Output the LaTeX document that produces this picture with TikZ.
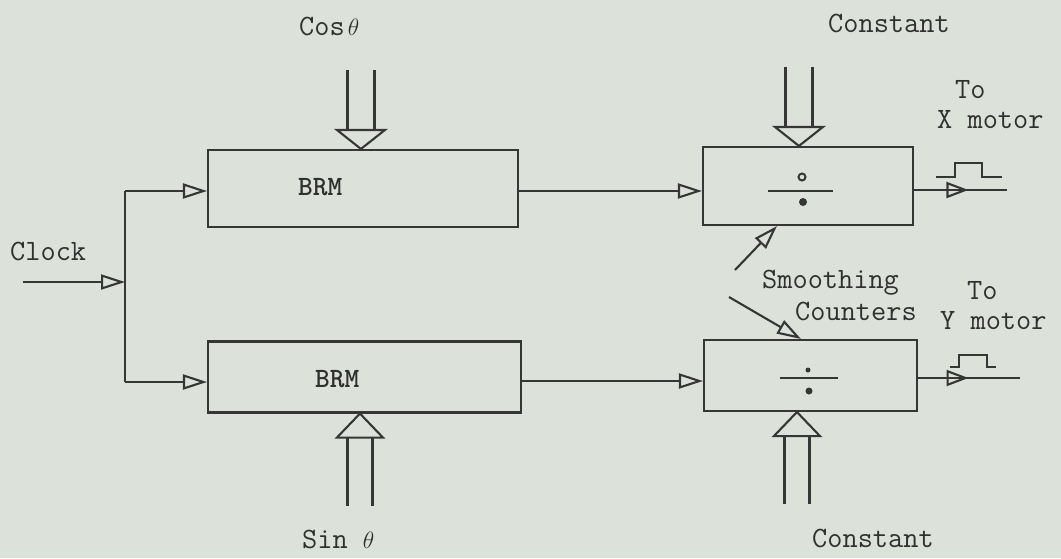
\documentclass[tikz,border=0pt]{standalone}
\usetikzlibrary{arrows.meta,decorations.markings}
\definecolor{bg}{HTML}{DCE2D9}
\definecolor{ink}{HTML}{363636}
\definecolor{txt}{HTML}{303030}
\newcommand{\smalltheta}{\scalebox{0.95}{$\theta$}}
\begin{document}
\begin{tikzpicture}[x=1pt,y=-1pt,
  ln/.style={draw,color=ink,line width=2.1pt},
  box/.style={ln,rectangle,inner sep=0pt},
  arr/.style={ln,-{Triangle[open,length=24pt,width=15pt]}},
  outarr/.style={ln,postaction={decorate},
    decoration={markings,mark=at position #1 with {\arrow{Triangle[open,length=22pt,width=16pt]}}}},
  lbl/.style={font=\ttfamily\fontsize{29.5}{32}\selectfont,text=txt,inner sep=0pt,anchor=base west},
  blbl/.style={lbl,font=\ttfamily\bfseries\fontsize{28}{30}\selectfont},
  downarr/.pic={\draw[ln] (-13.5,-79)--(-13.5,-19) (13.5,-79)--(13.5,-19);
                \draw[ln,line join=miter] (-24,-19)--(24,-19)--(0,0)--cycle;},
  uparr/.pic={\draw[ln] (-12.5,92)--(-12.5,24) (12.5,92)--(12.5,24);
              \draw[ln,line join=miter] (-23,24)--(23,24)--(0,0)--cycle;},
  pulse/.style={draw,color=ink,line width=1.6pt}
]
\fill[bg] (0,0) rectangle (1061,558);
\useasboundingbox (0,0) rectangle (1061,558);

% boxes
\node[box,minimum width=310pt,minimum height=77pt] (brm1) at (363,188.5) {};
\node[box,minimum width=313pt,minimum height=71pt] (brm2) at (364.5,377) {};
\node[box,minimum width=210pt,minimum height=78pt] (div1) at (808,186) {};
\node[box,minimum width=213pt,minimum height=71pt] (div2) at (810.5,375.5) {};

% texts
\node[blbl] (t1) at (298,195) {BRM};
\node[blbl] (t2) at (315,387) {BRM};
\node[lbl] (clock) at (10,260) {Clock};
\node[lbl] (cos) at (299,35) {Cos\hspace{3pt}\smalltheta};
\node[lbl] (sin) at (302,548) {Sin \smalltheta};
\node[lbl] (c1) at (828,32) {Constant};
\node[lbl] (c2) at (812,547) {Constant};
\node[lbl] (sm) at (762,288) {Smoothing};
\node[lbl] (cn) at (795,320) {Counters};
\node[lbl] (to1) at (955,98) {To};
\node[lbl] (xm) at (937,128) {X motor};
\node[lbl] (to2) at (967,299) {To};
\node[lbl] (ym) at (940,329) {Y motor};

% clock and trunk
\coordinate (clk) at (23,282);
\coordinate (tt) at (125,191);
\coordinate (tb) at (125,382);
\draw[ln] (tt) -- (tb);
\draw[arr] (clk) -- (clk -| tt);
\draw[arr] (tt) -- (tt -| brm1.west);
\draw[arr] (tb) -- (tb -| brm2.west);

% BRM to dividers
\coordinate (m1) at (600,191);
\coordinate (m2) at (600,381);
\draw[arr] (m1 -| brm1.east) -- (m1 -| div1.west);
\draw[arr] (m2 -| brm2.east) -- (m2 -| div2.west);

% outputs
\coordinate (xo) at (1007,190);
\coordinate (yo) at (1020,378);
\draw[outarr=0.585] (xo -| div1.east) -- (xo);
\draw[outarr=0.495] (yo -| div2.east) -- (yo);

% pulses
\draw[pulse] (936,177) -- (955,177) -- (955,163) -- (982,163) -- (982,177) -- (1002,177);
\draw[pulse] (950,367) -- (959,367) -- (959,355) -- (987,355) -- (987,367) -- (996,367);

% big hollow input arrows
\pic at ([xshift=154pt]brm1.north west) {downarr};
\pic at ([xshift=97pt]div1.north west) {downarr};
\pic at ([xshift=153pt]brm2.south west) {uparr};
\pic at ([xshift=94pt]div2.south west) {uparr};

% divider symbols
\draw[ink,line width=2pt] (802,177) circle (3.5pt);
\draw[ln] (768,191) -- (833,191);
\fill[ink] (803,202) circle (4pt);
\fill[ink] (808,370) circle (2.5pt);
\draw[ln] (780,378) -- (838,378);
\fill[ink] (809,391) circle (3.5pt);

% smoothing counter arrows
\coordinate (s1) at (735,270);
\coordinate (s2) at (729,297);
\draw[arr] (s1) -- ([xshift=75pt]div1.south west);
\draw[arr] (s2) -- ([xshift=98pt]div2.north west);
\end{tikzpicture}
\end{document}
